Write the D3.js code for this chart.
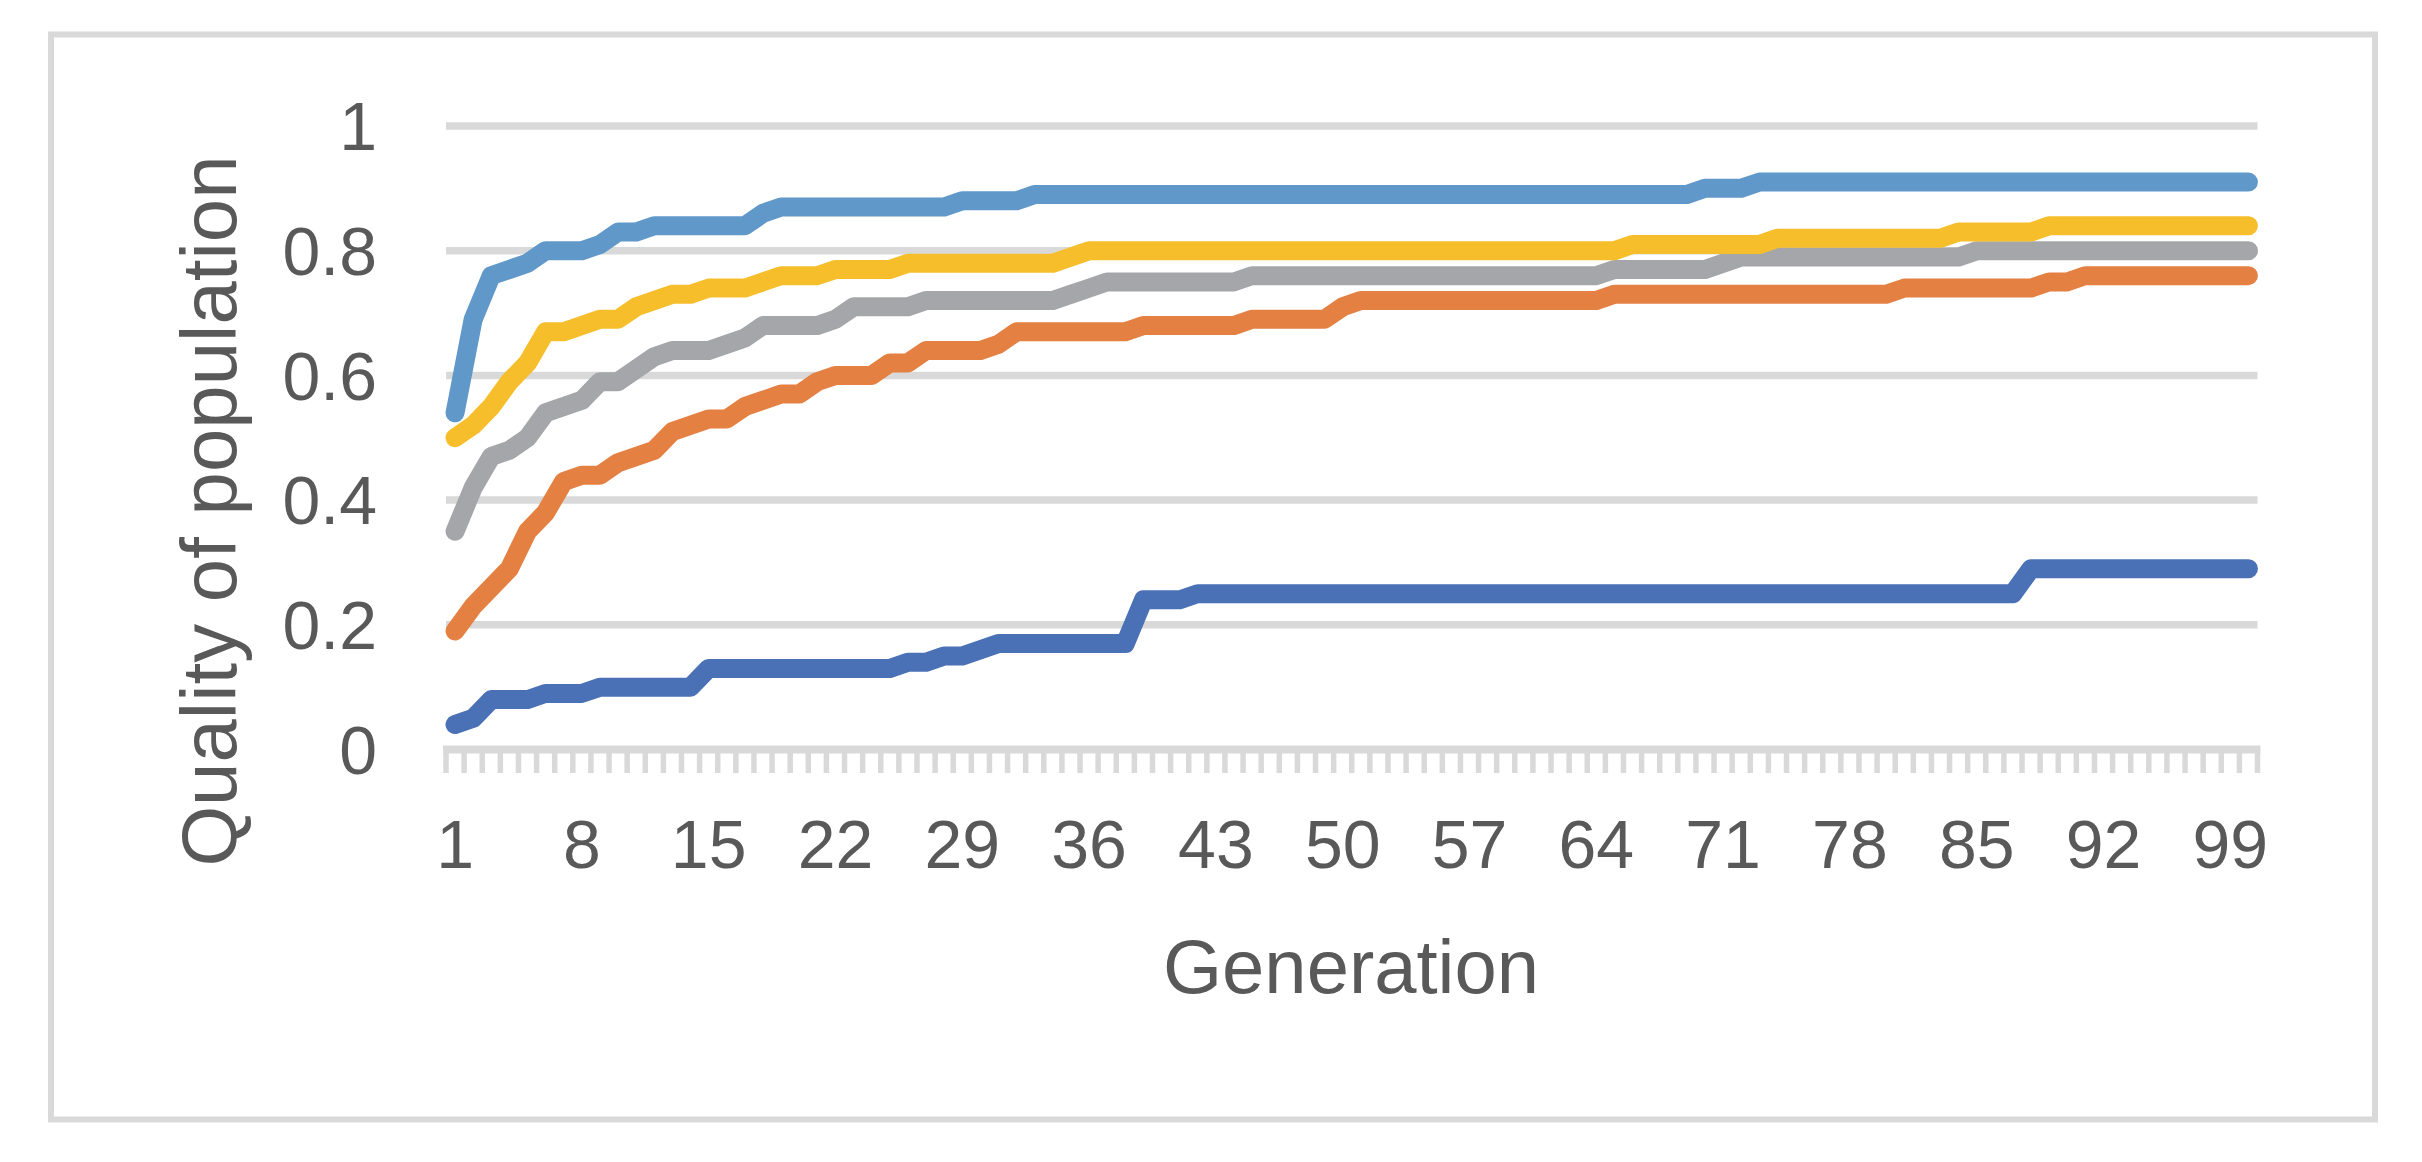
<!DOCTYPE html>
<html>
<head>
<meta charset="utf-8">
<script src="https://cdn.jsdelivr.net/npm/d3@7"></script>
<style>
  body { margin: 0; background: #fff; }
  svg text { font-family: "Liberation Sans", Arial, sans-serif; fill: #595959; }
</style>
</head>
<body>
<div id="chart"></div>
<script>
// generations on the x axis
const generations = d3.range(1, 101)
const xTickLabels = [1, 8, 15, 22, 29, 36, 43, 50, 57, 64, 71, 78, 85, 92, 99]
const yTicks = [0, 0.2, 0.4, 0.6, 0.8, 1]

// series values, one per generation
const series1 = [
  0.04, 0.05, 0.08, 0.08, 0.08, 0.09, 0.09, 0.09, 0.10, 0.10, 0.10, 0.10, 0.10, 0.10, 0.13, 0.13, 0.13, 0.13, 0.13, 0.13,
  0.13, 0.13, 0.13, 0.13, 0.13, 0.14, 0.14, 0.15, 0.15, 0.16, 0.17, 0.17, 0.17, 0.17, 0.17, 0.17, 0.17, 0.17, 0.24, 0.24,
  0.24, 0.25, 0.25, 0.25, 0.25, 0.25, 0.25, 0.25, 0.25, 0.25, 0.25, 0.25, 0.25, 0.25, 0.25, 0.25, 0.25, 0.25, 0.25, 0.25,
  0.25, 0.25, 0.25, 0.25, 0.25, 0.25, 0.25, 0.25, 0.25, 0.25, 0.25, 0.25, 0.25, 0.25, 0.25, 0.25, 0.25, 0.25, 0.25, 0.25,
  0.25, 0.25, 0.25, 0.25, 0.25, 0.25, 0.25, 0.29, 0.29, 0.29, 0.29, 0.29, 0.29, 0.29, 0.29, 0.29, 0.29, 0.29, 0.29, 0.29
]
const series2 = [
  0.19, 0.23, 0.26, 0.29, 0.35, 0.38, 0.43, 0.44, 0.44, 0.46, 0.47, 0.48, 0.51, 0.52, 0.53, 0.53, 0.55, 0.56, 0.57, 0.57,
  0.59, 0.60, 0.60, 0.60, 0.62, 0.62, 0.64, 0.64, 0.64, 0.64, 0.65, 0.67, 0.67, 0.67, 0.67, 0.67, 0.67, 0.67, 0.68, 0.68,
  0.68, 0.68, 0.68, 0.68, 0.69, 0.69, 0.69, 0.69, 0.69, 0.71, 0.72, 0.72, 0.72, 0.72, 0.72, 0.72, 0.72, 0.72, 0.72, 0.72,
  0.72, 0.72, 0.72, 0.72, 0.73, 0.73, 0.73, 0.73, 0.73, 0.73, 0.73, 0.73, 0.73, 0.73, 0.73, 0.73, 0.73, 0.73, 0.73, 0.73,
  0.74, 0.74, 0.74, 0.74, 0.74, 0.74, 0.74, 0.74, 0.75, 0.75, 0.76, 0.76, 0.76, 0.76, 0.76, 0.76, 0.76, 0.76, 0.76, 0.76
]
const series3 = [
  0.35, 0.42, 0.47, 0.48, 0.50, 0.54, 0.55, 0.56, 0.59, 0.59, 0.61, 0.63, 0.64, 0.64, 0.64, 0.65, 0.66, 0.68, 0.68, 0.68,
  0.68, 0.69, 0.71, 0.71, 0.71, 0.71, 0.72, 0.72, 0.72, 0.72, 0.72, 0.72, 0.72, 0.72, 0.73, 0.74, 0.75, 0.75, 0.75, 0.75,
  0.75, 0.75, 0.75, 0.75, 0.76, 0.76, 0.76, 0.76, 0.76, 0.76, 0.76, 0.76, 0.76, 0.76, 0.76, 0.76, 0.76, 0.76, 0.76, 0.76,
  0.76, 0.76, 0.76, 0.76, 0.77, 0.77, 0.77, 0.77, 0.77, 0.77, 0.78, 0.79, 0.79, 0.79, 0.79, 0.79, 0.79, 0.79, 0.79, 0.79,
  0.79, 0.79, 0.79, 0.79, 0.80, 0.80, 0.80, 0.80, 0.80, 0.80, 0.80, 0.80, 0.80, 0.80, 0.80, 0.80, 0.80, 0.80, 0.80, 0.80
]
const series4 = [
  0.50, 0.52, 0.55, 0.59, 0.62, 0.67, 0.67, 0.68, 0.69, 0.69, 0.71, 0.72, 0.73, 0.73, 0.74, 0.74, 0.74, 0.75, 0.76, 0.76,
  0.76, 0.77, 0.77, 0.77, 0.77, 0.78, 0.78, 0.78, 0.78, 0.78, 0.78, 0.78, 0.78, 0.78, 0.79, 0.80, 0.80, 0.80, 0.80, 0.80,
  0.80, 0.80, 0.80, 0.80, 0.80, 0.80, 0.80, 0.80, 0.80, 0.80, 0.80, 0.80, 0.80, 0.80, 0.80, 0.80, 0.80, 0.80, 0.80, 0.80,
  0.80, 0.80, 0.80, 0.80, 0.80, 0.81, 0.81, 0.81, 0.81, 0.81, 0.81, 0.81, 0.81, 0.82, 0.82, 0.82, 0.82, 0.82, 0.82, 0.82,
  0.82, 0.82, 0.82, 0.83, 0.83, 0.83, 0.83, 0.83, 0.84, 0.84, 0.84, 0.84, 0.84, 0.84, 0.84, 0.84, 0.84, 0.84, 0.84, 0.84
]
const series5 = [
  0.54, 0.69, 0.76, 0.77, 0.78, 0.80, 0.80, 0.80, 0.81, 0.83, 0.83, 0.84, 0.84, 0.84, 0.84, 0.84, 0.84, 0.86, 0.87, 0.87,
  0.87, 0.87, 0.87, 0.87, 0.87, 0.87, 0.87, 0.87, 0.88, 0.88, 0.88, 0.88, 0.89, 0.89, 0.89, 0.89, 0.89, 0.89, 0.89, 0.89,
  0.89, 0.89, 0.89, 0.89, 0.89, 0.89, 0.89, 0.89, 0.89, 0.89, 0.89, 0.89, 0.89, 0.89, 0.89, 0.89, 0.89, 0.89, 0.89, 0.89,
  0.89, 0.89, 0.89, 0.89, 0.89, 0.89, 0.89, 0.89, 0.89, 0.90, 0.90, 0.90, 0.91, 0.91, 0.91, 0.91, 0.91, 0.91, 0.91, 0.91,
  0.91, 0.91, 0.91, 0.91, 0.91, 0.91, 0.91, 0.91, 0.91, 0.91, 0.91, 0.91, 0.91, 0.91, 0.91, 0.91, 0.91, 0.91, 0.91, 0.91
]
const allSeries = [series1, series2, series3, series4, series5]
const colours = ["#4a71b6", "#e48042", "#a5a6a9", "#f6be2b", "#6098c9"]

const width = 2422
const height = 1162
const margin = { top: 126, bottom: 412.5, left: 446, right: 164.5 }
const gridColour = "#d9d9d9"

const svg = d3.select("#chart").append("svg").attr("width", width).attr("height", height)

// outer frame
svg.append("rect")
    .attr("x", 51).attr("y", 34.5)
    .attr("width", 2324).attr("height", 1085)
    .attr("fill", "none").attr("stroke", gridColour).attr("stroke-width", 6)

const x = d3.scaleBand().domain(generations).range([margin.left, width - margin.right]).padding(0)
const y = d3.scaleLinear().domain([0, 1]).range([height - margin.bottom, margin.top])

// horizontal gridlines
svg.append("g").attr("id", "grid").selectAll("line")
    .data(yTicks.slice(1)).enter().append("line")
    .attr("x1", x.range()[0]).attr("x2", x.range()[1])
    .attr("y1", d => y(d)).attr("y2", d => y(d))
    .attr("stroke", gridColour).attr("stroke-width", 7.5)

// x axis line and tick marks between categories
const xAxisGroup = svg.append("g").attr("id", "xAxisGroup")
xAxisGroup.append("line")
    .attr("x1", x.range()[0] - 3).attr("x2", x.range()[1] + 3)
    .attr("y1", y(0)).attr("y2", y(0))
    .attr("stroke", gridColour).attr("stroke-width", 8)
const edges = generations.map(d => x(d)).concat([x.range()[1]])
xAxisGroup.selectAll(".edge").data(edges).enter().append("line")
    .attr("class", "edge")
    .attr("x1", d => d).attr("x2", d => d)
    .attr("y1", y(0) + 3).attr("y2", y(0) + 23.5)
    .attr("stroke", gridColour).attr("stroke-width", 5.5)

// x tick labels
const xAxis = d3.axisBottom(x).tickValues(xTickLabels).tickSize(0).tickPadding(0)
const xLabels = svg.append("g").attr("transform", `translate(0, 868)`).call(xAxis)
xLabels.select(".domain").remove()
xLabels.selectAll("text")
    .attr("y", 0).attr("dy", 0)
    .style("font-size", "68px").style("font-family", null).attr("fill", "#595959")

// y tick labels
const yAxis = d3.axisLeft(y).tickValues(yTicks).tickSize(0).tickPadding(0).tickFormat(d => d3.format("")(d))
const yLabels = svg.append("g").attr("transform", `translate(377, 0)`).call(yAxis)
yLabels.select(".domain").remove()
yLabels.selectAll("text")
    .attr("x", 0).attr("dy", "0.35em")
    .style("font-size", "68px").style("font-family", null).attr("fill", "#595959")

// the lines
const line = d3.line()
    .x((d, i) => x(generations[i]) + x.bandwidth() / 2)
    .y(d => y(d))

svg.append("g").attr("id", "lines").selectAll("path")
    .data(allSeries).enter().append("path")
    .attr("d", d => line(d))
    .attr("fill", "none")
    .attr("stroke", (d, i) => colours[i])
    .attr("stroke-width", 19)
    .attr("stroke-linejoin", "round")
    .attr("stroke-linecap", "round")

// axis titles
svg.append("text")
    .attr("x", 1351).attr("y", 993)
    .attr("text-anchor", "middle")
    .style("font-size", "76px")
    .text("Generation")

svg.append("text")
    .attr("transform", "translate(236, 511) rotate(-90)")
    .attr("text-anchor", "middle")
    .style("font-size", "78px")
    .text("Quality of population")
</script>
</body>
</html>
